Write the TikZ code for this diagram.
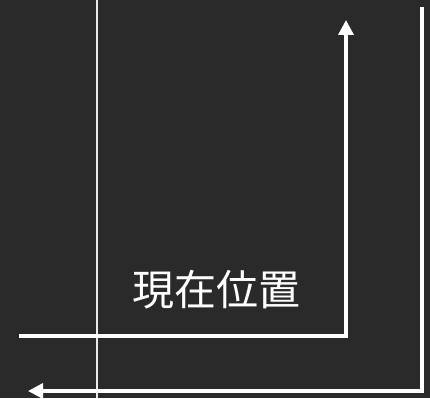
\documentclass[tikz,border=0pt]{standalone}
\usepackage{fontspec}
\newfontfamily\cjk{Noto Sans CJK JP}
\usetikzlibrary{arrows.meta}
\definecolor{bg}{HTML}{2A2A2A}
\tikzset{
  pathline/.style={draw=white, line width=3.4pt, line join=miter, -{Triangle[length=15pt,width=15pt]}},
  guideline/.style={draw=white!92!black, line width=1.6pt},
  label/.style={text=white, font=\cjk\fontsize{42}{42}\selectfont, inner sep=0pt}
}
\begin{document}
\begin{tikzpicture}[x=1pt,y=-1pt]
\fill[bg] (0,0) rectangle (430,398);
\useasboundingbox (0,0) rectangle (430,398);
\coordinate (gtop) at (97,0);
\coordinate (gbot) at (97,398);
\draw[guideline] (gtop) -- (gbot);
\coordinate (astart) at (19,336);
\coordinate (acorner) at (346,336);
\coordinate (aend) at (346,20);
\draw[pathline] (astart) -- (acorner) -- (aend);
\coordinate (bstart) at (422,7);
\coordinate (bcorner) at (422,391);
\coordinate (bend) at (28,391);
\draw[pathline] (bstart) -- (bcorner) -- (bend);
\node[label] (pos) at (216.5,290) {現在位置};
\end{tikzpicture}
\end{document}
